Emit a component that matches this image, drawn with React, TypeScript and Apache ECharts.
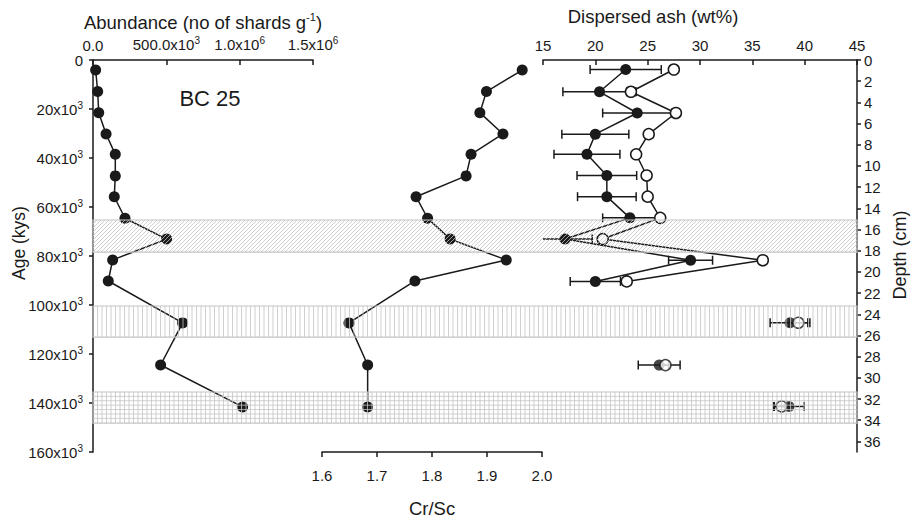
import React, { useEffect, useRef } from 'react';
import * as echarts from 'echarts';

const FONT = '"Liberation Sans", Arial, Helvetica, sans-serif';
const INK = '#1a1a1a';
const HATCH = '#c4c4c4';

// ---- data ----
// ages (kyr) of the abundance / Cr-Sc samples
const ageKy = [4.1, 12.9, 21.5, 30.2, 38.5, 47.3, 55.8, 64.6, 73.1, 81.6, 90.2, 107.3, 124.5, 141.6];
// abundance (no of shards per g)
const abundance = [18000, 32000, 39000, 89000, 152000, 152000, 145000, 218000, 502000, 134000, 104000, 611000, 461000, 1020000];
// Cr/Sc ratio
const crSc = [1.964, 1.899, 1.887, 1.929, 1.871, 1.862, 1.771, 1.792, 1.833, 1.935, 1.769, 1.649, 1.683, 1.683];
// depth (cm) of the dispersed-ash samples
const depthCm = [0.9, 3.0, 5.0, 7.0, 8.9, 10.9, 12.9, 14.9, 16.9, 18.9, 20.9, 24.8, 28.8, 32.7];
// dispersed ash (wt%), filled symbols and their errors
const ashFilled = [22.9, 20.4, 24.0, 20.0, 19.2, 21.1, 21.1, 23.3, 17.1, 29.1, 20.0, 38.6, 26.1, 38.5];
const ashFilledErr = [3.4, 3.5, 3.3, 3.2, 3.15, 2.85, 2.8, 2.6, 2.6, 2.1, 2.4, 1.9, 2.0, 1.45];
// dispersed ash (wt%), open symbols and their errors
const ashOpen = [27.5, 23.4, 27.7, 25.1, 23.9, 24.9, 25.0, 26.2, 20.7, 36.0, 23.0, 39.4, 26.7, 37.8];
const ashOpenErr = [0, 0.4, 0.3, 0, 0, 0, 0, 0, 0, 0.35, 0, 0.9, 0.3, 0.7];
const connectedCount = 11;
// shaded intervals (kyr): start, end, pattern
const bandStart = [65.3, 100.4, 135.5];
const bandEnd = [78.4, 113.1, 148.2];
const bandPattern = [0, 1, 2]; // 0 diagonal, 1 vertical, 2 grid
// tick values
const depthTicks = [0, 2, 4, 6, 8, 10, 12, 14, 16, 18, 20, 22, 24, 26, 28, 30, 32, 34, 36];

const axisLine = { show: true, onZero: false, lineStyle: { color: INK, width: 1.5 } };
const tickStyle = { color: INK, width: 1.5 };
const labelBase = { color: INK, fontSize: 15, fontFamily: FONT };
const supStyle = { fontSize: 10, color: INK, fontFamily: FONT, padding: [0, 0, 8, 0] };

function abundanceLabel(v: number) {
  if (v === 0) return '0.0';
  if (v < 1e6) return (v / 1000).toFixed(1) + 'x10{sup|3}';
  return (v / 1e6).toFixed(1) + 'x10{sup|6}';
}

function App() {
  const ref = useRef<HTMLDivElement>(null);
  useEffect(() => {
    document.body.style.margin = '0';
    const chart = echarts.init(ref.current as HTMLDivElement, null, { renderer: 'svg' });

    const errRender = (lo: number, hi: number) => (params: any, api: any) => {
      const v = api.value(0);
      const d = api.value(1);
      const er = api.value(2);
      if (!er) return { type: 'group', children: [] };
      const a = v - er;
      const b = v + er;
      const pa = api.coord([Math.max(a, lo), d]);
      const pb = api.coord([Math.min(b, hi), d]);
      const st = { stroke: INK, lineWidth: 1.5 };
      const ch: any[] = [{ type: 'line', shape: { x1: pa[0], y1: pa[1], x2: pb[0], y2: pb[1] }, style: st }];
      if (a >= lo) ch.push({ type: 'line', shape: { x1: pa[0], y1: pa[1] - 4.5, x2: pa[0], y2: pa[1] + 4.5 }, style: st });
      if (b <= hi) ch.push({ type: 'line', shape: { x1: pb[0], y1: pb[1] - 4.5, x2: pb[0], y2: pb[1] + 4.5 }, style: st });
      return { type: 'group', children: ch };
    };

    const bandRender = (params: any, api: any) => {
      const s = api.value(1);
      const e = api.value(2);
      const kind = api.value(3);
      const p0 = api.coord([0, s]);
      const p1 = api.coord([1, e]);
      const x0 = p0[0], y0 = p0[1], x1 = p1[0], y1 = p1[1];
      const h = y1 - y0;
      const st = { stroke: HATCH, lineWidth: 0.8 };
      const ch: any[] = [];
      if (kind === 0) {
        for (let c = x0 - h; c < x1; c += 4) {
          let ax = c, ay = y1, bx = c + h, by = y0;
          if (ax < x0) { ay = y1 - (x0 - ax); ax = x0; }
          if (bx > x1) { by = y0 + (bx - x1); bx = x1; }
          ch.push({ type: 'line', shape: { x1: ax, y1: ay, x2: bx, y2: by }, style: st });
        }
      }
      if (kind === 1 || kind === 2) {
        for (let x = x0 + 4.5; x < x1; x += 4.5) {
          ch.push({ type: 'line', shape: { x1: x, y1: y0, x2: x, y2: y1 }, style: st });
        }
      }
      if (kind === 2) {
        for (let y = y0 + 4.4; y < y1 - 1; y += 4.4) {
          ch.push({ type: 'line', shape: { x1: x0, y1: y, x2: x1, y2: y }, style: st });
        }
      }
      ch.push({ type: 'rect', shape: { x: x0, y: y0, width: x1 - x0, height: h }, style: { fill: 'none', stroke: HATCH, lineWidth: 1.2 } });
      return { type: 'group', children: ch };
    };

    const filledPts = ashFilled.map((v, i) => [v, depthCm[i]]);
    const openPts = ashOpen.map((v, i) => [v, depthCm[i]]);

    const centered = { align: 'center', verticalAlign: 'middle', textAlign: 'center', textVerticalAlign: 'middle' };

    const option: any = {
      animation: false,
      backgroundColor: '#ffffff',
      grid: [
        { left: 93, top: 60, width: 220, height: 392 },
        { left: 322, top: 60, width: 220, height: 392 },
        { left: 543, top: 60, width: 314, height: 392 },
        { left: 93, top: 60, width: 764, height: 392 },
      ],
      xAxis: [
        {
          gridIndex: 0, type: 'value', position: 'top', min: 0, max: 1500000, interval: 500000,
          axisLine, axisTick: { inside: true, length: 5, lineStyle: tickStyle },
          axisLabel: { ...labelBase, margin: 7, formatter: abundanceLabel, rich: { sup: supStyle } },
          splitLine: { show: false },
        },
        {
          gridIndex: 1, type: 'value', position: 'bottom', min: 1.6, max: 2.0, interval: 0.1,
          axisLine, axisTick: { inside: false, length: 5, lineStyle: tickStyle },
          axisLabel: { ...labelBase, margin: 16, formatter: (v: number) => v.toFixed(1) },
          splitLine: { show: false },
        },
        {
          gridIndex: 2, type: 'value', position: 'top', min: 15, max: 45, interval: 5,
          axisLine, axisTick: { inside: true, length: 5, lineStyle: tickStyle },
          axisLabel: { ...labelBase, margin: 7 },
          splitLine: { show: false },
        },
        { gridIndex: 3, type: 'value', min: 0, max: 1, show: false },
      ],
      yAxis: [
        {
          gridIndex: 0, type: 'value', inverse: true, position: 'left', min: 0, max: 160, interval: 20,
          axisLine, axisTick: { inside: false, length: 4, lineStyle: tickStyle },
          axisLabel: {
            ...labelBase, margin: 10,
            formatter: (v: number) => (v === 0 ? '0' : v + 'x10{sup|3}'),
            rich: { sup: supStyle },
          },
          splitLine: { show: false },
        },
        { gridIndex: 1, type: 'value', inverse: true, min: 0, max: 160, show: false },
        {
          gridIndex: 2, type: 'value', inverse: true, position: 'right', min: 0, max: 37, interval: 2,
          axisLine,
          axisTick: { inside: false, length: 4, lineStyle: tickStyle, customValues: depthTicks },
          axisLabel: { ...labelBase, margin: 7, customValues: depthTicks },
          splitLine: { show: false },
        },
        { gridIndex: 3, type: 'value', inverse: true, min: 0, max: 160, show: false },
      ],
      series: [
        {
          type: 'line', name: 'Abundance', xAxisIndex: 0, yAxisIndex: 0, z: 3,
          data: abundance.map((v, i) => [v, ageKy[i]]),
          symbol: 'circle', symbolSize: 11,
          itemStyle: { color: INK }, lineStyle: { color: INK, width: 1.5 },
        },
        {
          type: 'line', name: 'Cr/Sc', xAxisIndex: 1, yAxisIndex: 1, z: 3,
          data: crSc.map((v, i) => [v, ageKy[i]]),
          symbol: 'circle', symbolSize: 11,
          itemStyle: { color: INK }, lineStyle: { color: INK, width: 1.5 },
        },
        {
          type: 'custom', name: 'err filled', xAxisIndex: 2, yAxisIndex: 2, z: 2, silent: true,
          renderItem: errRender(15, 45),
          encode: { x: 0, y: 1 },
          data: ashFilled.map((v, i) => [v, depthCm[i], ashFilledErr[i]]),
        },
        {
          type: 'custom', name: 'err open', xAxisIndex: 2, yAxisIndex: 2, z: 2, silent: true,
          renderItem: errRender(15, 45),
          encode: { x: 0, y: 1 },
          data: ashOpen.map((v, i) => [v, depthCm[i], ashOpenErr[i]]),
        },
        {
          type: 'line', name: 'Ash filled', xAxisIndex: 2, yAxisIndex: 2, z: 3,
          data: filledPts.slice(0, connectedCount),
          symbol: 'circle', symbolSize: 11,
          itemStyle: { color: INK }, lineStyle: { color: INK, width: 1.5 },
        },
        {
          type: 'scatter', name: 'Ash filled isolated', xAxisIndex: 2, yAxisIndex: 2, z: 3,
          data: filledPts.slice(connectedCount),
          symbol: 'circle', symbolSize: 11, itemStyle: { color: INK },
        },
        {
          type: 'line', name: 'Ash open', xAxisIndex: 2, yAxisIndex: 2, z: 4,
          data: openPts.slice(0, connectedCount),
          symbol: 'circle', symbolSize: 11,
          itemStyle: { color: '#ffffff', borderColor: INK, borderWidth: 1.5 },
          lineStyle: { color: INK, width: 1.5 },
        },
        {
          type: 'scatter', name: 'Ash open isolated', xAxisIndex: 2, yAxisIndex: 2, z: 4,
          data: openPts.slice(connectedCount),
          symbol: 'circle', symbolSize: 11,
          itemStyle: { color: '#ffffff', borderColor: INK, borderWidth: 1.5 },
        },
        {
          type: 'custom', name: 'bands', xAxisIndex: 3, yAxisIndex: 3, z: 6, silent: true,
          renderItem: bandRender,
          encode: { x: 0, y: 1 },
          data: bandStart.map((s, i) => [0, s, bandEnd[i], bandPattern[i]]),
        },
      ],
      graphic: [
        {
          type: 'text', x: 203, y: 22, silent: true,
          style: {
            text: 'Abundance (no of shards g{sup|-1})', fontSize: 18.5, fontFamily: FONT, fill: INK, ...centered,
            rich: { sup: { fontSize: 11, fontFamily: FONT, fill: INK, padding: [0, 0, 10, 0] } },
          },
        },
        {
          type: 'text', x: 653, y: 16, silent: true,
          style: { text: 'Dispersed ash (wt%)', fontSize: 18.5, fontFamily: FONT, fill: INK, ...centered },
        },
        {
          type: 'text', x: 210, y: 98, silent: true,
          style: { text: 'BC 25', fontSize: 22, fontFamily: FONT, fill: INK, ...centered },
        },
        {
          type: 'text', x: 19, y: 243, rotation: Math.PI / 2, silent: true,
          style: { text: 'Age (kys)', fontSize: 17.5, fontFamily: FONT, fill: INK, ...centered },
        },
        {
          type: 'text', x: 900, y: 255, rotation: Math.PI / 2, silent: true,
          style: { text: 'Depth (cm)', fontSize: 18, fontFamily: FONT, fill: INK, ...centered },
        },
        {
          type: 'text', x: 432, y: 508, silent: true,
          style: { text: 'Cr/Sc', fontSize: 18.5, fontFamily: FONT, fill: INK, ...centered },
        },
      ],
    };
    chart.setOption(option);
    return () => chart.dispose();
  }, []);
  return (
    <div
      ref={ref}
      style={{ position: 'absolute', left: 0, top: 0, width: 911, height: 523, background: '#fff' }}
    />
  );
}

export default App;
